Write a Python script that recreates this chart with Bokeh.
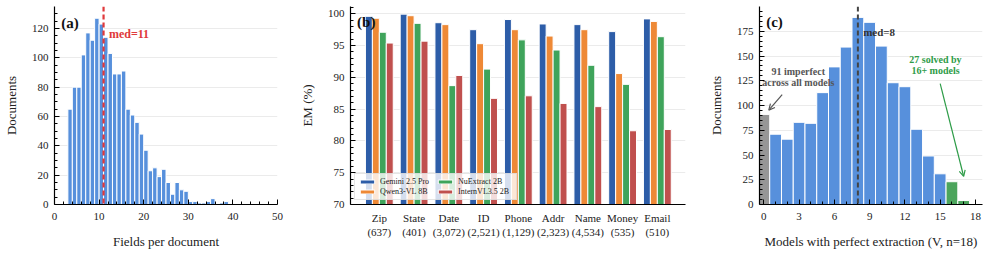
from bokeh.plotting import figure
from bokeh.layouts import row
from bokeh.models import (Range1d, FixedTicker, Span, Label, Arrow, OpenHead,
                          ColumnDataSource, Legend, LegendItem)
from bokeh.embed import file_html
from bokeh.resources import INLINE

# ---------------- data ----------------
# (a) fields per document histogram (bin start -> documents)
fields_bins = [3, 4, 5, 6, 7, 8, 9, 10, 11, 12, 13, 14, 15, 16, 17, 18, 19, 20,
               21, 22, 23, 24, 25, 26, 27, 28, 29, 30, 31, 32, 33, 34, 35, 37, 38]
fields_docs = [65, 80, 80, 102, 117, 112, 127, 123, 114, 103, 89, 89, 91, 65, 61, 56, 48, 37,
               23, 25, 19, 24, 15, 7, 15, 10, 9, 2, 2, 1, 1, 2, 4, 1, 2]
fields_median = 11

# (b) exact match per field type
field_types = ["Zip", "State", "Date", "ID", "Phone", "Addr", "Name", "Money", "Email"]
field_counts = ["637", "401", "3,072", "2,521", "1,129", "2,323", "4,534", "535", "510"]
models = ["Gemini 2.5 Pro", "Qwen3-VL 8B", "NuExtract 2B", "InternVL3.5 2B"]
em_gemini = [99.6, 99.95, 98.6, 97.5, 99.1, 98.4, 98.3, 97.2, 99.2]
em_qwen = [99.3, 99.7, 98.3, 95.3, 97.5, 96.5, 97.5, 90.6, 98.8]
em_nuextract = [97.1, 98.5, 88.7, 91.3, 95.9, 94.3, 91.9, 88.9, 96.4]
em_internvl = [95.4, 95.7, 90.3, 86.7, 87.1, 85.9, 85.4, 81.6, 81.8]

# (c) number of models with perfect extraction
models_perfect = list(range(0, 18))
models_docs = [91, 71, 66, 83, 82, 113, 139, 159, 189, 184, 160, 123, 119, 76, 49, 31, 23, 4]
models_median = 8

FONT = "Liberation Serif"
H = 277


def style(p, xticks, yticks, xminor, yminor):
    p.outline_line_color = None
    p.background_fill_color = "white"
    p.xgrid.grid_line_color = None
    p.ygrid.grid_line_color = "#ebebeb"
    p.ygrid.grid_line_width = 1
    p.xaxis.ticker = FixedTicker(ticks=xticks, minor_ticks=xminor)
    p.yaxis.ticker = FixedTicker(ticks=yticks, minor_ticks=yminor)
    p.ygrid.ticker = FixedTicker(ticks=yticks)
    for ax in (p.xaxis, p.yaxis):
        ax.axis_line_color = "black"
        ax.axis_line_width = 1.2
        ax.major_tick_line_color = "black"
        ax.minor_tick_line_color = "black"
        ax.major_tick_in = 5
        ax.major_tick_out = 0
        ax.minor_tick_in = 3
        ax.minor_tick_out = 0
        ax.major_label_text_font = FONT
        ax.major_label_text_font_size = "11px"
        ax.major_label_text_color = "#222222"
        ax.axis_label_text_font = FONT
        ax.axis_label_text_font_size = "13px"
        ax.axis_label_text_font_style = "normal"
        ax.axis_label_text_color = "#222222"
    p.xaxis.major_label_standoff = 8
    p.yaxis.major_label_standoff = 6
    p.xaxis.axis_label_standoff = 11
    p.yaxis.axis_label_standoff = 10


# ---------------- panel (a) ----------------
pa = figure(width=294, height=H, x_range=Range1d(0, 50), y_range=Range1d(0, 135),
            output_backend="svg", toolbar_location=None,
            min_border_left=52, min_border_right=17, min_border_top=6, min_border_bottom=73)
style(pa, list(range(0, 51, 10)), list(range(0, 121, 20)),
      [v for v in range(0, 51, 2) if v % 10], [v for v in range(0, 131, 5) if v % 20])
pa.xaxis.axis_label = "Fields per document"
pa.yaxis.axis_label = "Documents"
srcA = ColumnDataSource(dict(x=[b + 0.5 for b in fields_bins], top=fields_docs))
pa.vbar(x="x", top="top", width=1, bottom=0, source=srcA,
        fill_color="#5790DC", line_color="white", line_width=1)
pa.add_layout(Span(location=fields_median, dimension="height", line_color="#E0393B",
                   line_width=2.2, line_dash="5 3"))
pa.add_layout(Label(x=1.5, y=124, text="(a)", text_font=FONT, text_font_size="15px",
                    text_font_style="bold", text_baseline="middle", text_color="#111111"))
pa.add_layout(Label(x=fields_median + 1.2, y=116, text=f"med={fields_median}", text_font=FONT,
                    text_font_size="12px", text_font_style="bold", text_baseline="middle",
                    text_color="#E0393B"))

# ---------------- panel (b) ----------------
pb = figure(width=406, height=H, x_range=Range1d(-0.83, 8.81), y_range=Range1d(70, 101.15),
            output_backend="svg", toolbar_location=None,
            min_border_left=56, min_border_right=15, min_border_top=6, min_border_bottom=73)
style(pb, list(range(len(field_types))), list(range(70, 101, 5)),
      [], [v for v in range(70, 102) if v % 5])
pb.xaxis.major_tick_in = 0
pb.xaxis.minor_tick_in = 0
pb.xaxis.major_label_overrides = {i: f"{t}\n({c})" for i, (t, c) in
                                  enumerate(zip(field_types, field_counts))}
pb.xaxis.major_label_standoff = 7
pb.yaxis.axis_label = "EM (%)"
colsB = ["#2D5DA8", "#EE8936", "#3FA45B", "#C0504E"]
seriesB = [em_gemini, em_qwen, em_nuextract, em_internvl]
offs = [-0.3, -0.1, 0.1, 0.3]
rends = []
for vals, col, off in zip(seriesB, colsB, offs):
    src = ColumnDataSource(dict(x=[i + off for i in range(len(field_types))], top=vals))
    r = pb.vbar(x="x", top="top", bottom=70, width=0.2, source=src,
                fill_color=col, line_color="white", line_width=1)
    rends.append(r)
leg = Legend(items=[LegendItem(label=m, renderers=[r]) for m, r in zip(models, rends)],
             location=(4, 4), ncols=2, label_text_font=FONT, label_text_font_size="8px",
             label_height=8, label_width=55, glyph_height=5, glyph_width=18, label_standoff=4,
             spacing=1, padding=3, margin=0, background_fill_alpha=0.8,
             border_line_color="#cccccc", border_line_width=1, label_text_color="#222222")
pb.add_layout(leg)
pb.add_layout(Label(x=-0.64, y=98.7, text="(b)", text_font=FONT, text_font_size="15px",
                    text_font_style="bold", text_baseline="middle", text_color="#111111"))

# ---------------- panel (c) ----------------
pc = figure(width=289, height=H, x_range=Range1d(-0.37, 18.6), y_range=Range1d(0, 200),
            output_backend="svg", toolbar_location=None,
            min_border_left=59, min_border_right=7, min_border_top=6, min_border_bottom=73)
style(pc, list(range(0, 19, 3)), list(range(0, 176, 25)),
      [v for v in range(0, 19) if v % 3], [v for v in range(0, 201, 5) if v % 25])
pc.xaxis.axis_label = "Models with perfect extraction (V, n=18)"
pc.yaxis.axis_label = "Documents"
colsC = ["#969696" if v == 0 else ("#4CA55C" if v >= 16 else "#5790DC") for v in models_perfect]
srcC = ColumnDataSource(dict(x=models_perfect, top=models_docs, c=colsC))
pc.vbar(x="x", top="top", bottom=0, width=1, source=srcC, fill_color="c",
        line_color="white", line_width=1)
pc.add_layout(Span(location=models_median, dimension="height", line_color="#444444",
                   line_width=2, line_dash="5 3"))
pc.add_layout(Label(x=0.2, y=184.6, text="(c)", text_font=FONT, text_font_size="15px",
                    text_font_style="bold", text_baseline="middle", text_color="#111111"))
pc.add_layout(Label(x=models_median + 0.45, y=174.3, text=f"med={models_median}", text_font=FONT,
                    text_font_size="11px", text_font_style="bold", text_baseline="middle",
                    text_color="#333333"))
pc.add_layout(Label(x=2.93, y=128.8, text="91 imperfect\nacross all models", text_font=FONT,
                    text_font_size="10px", text_font_style="bold", text_baseline="middle",
                    text_align="center", text_color="#555555", text_line_height=1.0))
pc.add_layout(Label(x=14.6, y=140.6, text="27 solved by\n16+ models", text_font=FONT,
                    text_font_size="10px", text_font_style="bold", text_baseline="middle",
                    text_align="center", text_color="#2E9C48", text_line_height=1.0))
pc.add_layout(Arrow(x_start=1.56, y_start=111, x_end=0.42, y_end=95.3, line_color="#555555",
                    line_width=1.2, end=OpenHead(size=6, line_color="#555555", line_width=1.2)))
pc.add_layout(Arrow(x_start=15.0, y_start=122, x_end=17.0, y_end=28.3, line_color="#2E9C48",
                    line_width=1.2, end=OpenHead(size=6, line_color="#2E9C48", line_width=1.2)))

layout = row(pa, pb, pc)
open("out.html", "w").write(file_html(layout, INLINE))
